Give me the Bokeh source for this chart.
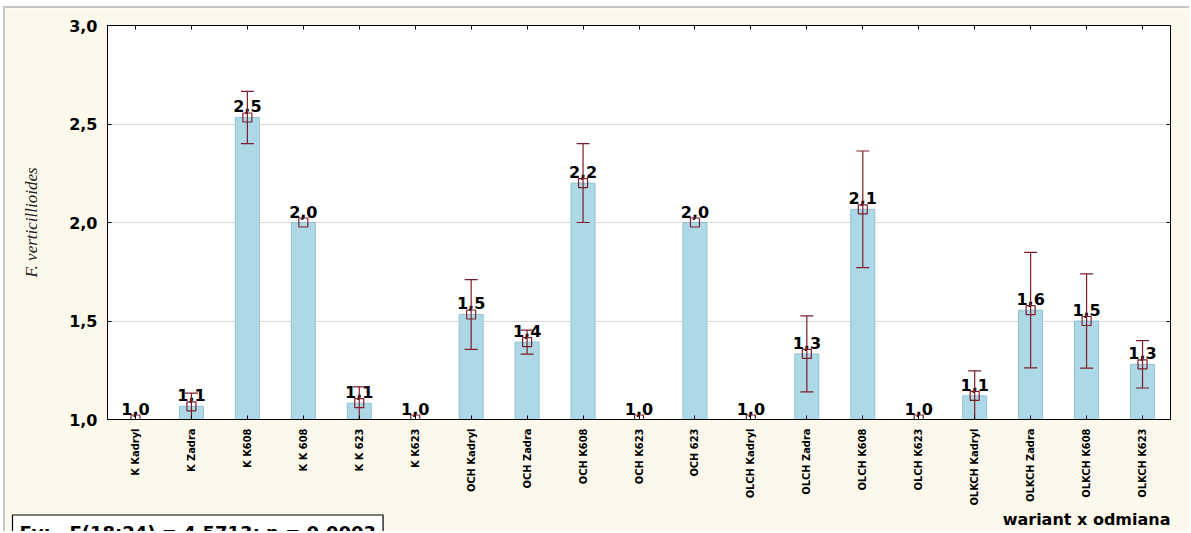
import numpy as np
from bokeh.plotting import figure
from bokeh.models import (ColumnDataSource, FixedTicker, LinearAxis, Title,
                          Range1d, CustomJSTickFormatter)
from bokeh.core.properties import value
from bokeh.embed import file_html
from bokeh.resources import INLINE

# Mean F. verticillioides score per treatment x variety, with error half-widths
categories = ["K Kadryl", "K Zadra", "K K608", "K K 608", "K K 623", "K K623",
              "OCH Kadryl", "OCH Zadra", "OCH K608", "OCH K623", "OCH 623",
              "OLCH Kadryl", "OLCH Zadra", "OLCH K608", "OLCH K623",
              "OLKCH Kadryl", "OLKCH Zadra", "OLKCH K608", "OLKCH K623"]
means = [1.0, 1.067, 2.533, 2.0, 1.083, 1.0,
         1.533, 1.393, 2.2, 1.0, 2.0,
         1.0, 1.333, 2.067, 1.0,
         1.12, 1.555, 1.5, 1.28]
errors = [0.0, 0.067, 0.133, 0.0, 0.083, 0.0,
          0.177, 0.061, 0.2, 0.0, 0.0,
          0.0, 0.193, 0.296, 0.0,
          0.127, 0.293, 0.239, 0.12]
y_ticks = [1.0, 1.5, 2.0, 2.5, 3.0]
grid_ticks = [1.5, 2.0, 2.5]
y_title = "F. verticillioides"
x_title = "wariant x odmiana"
stat_text = "Fv:\u00a0\u00a0\u00a0F(18;24) = 4,5713; p = 0,0003"

BAR = "#add8e6"
BAR_EDGE = "#93c3d4"
ERR = "#7d1d2c"
CREAM = "#fdf8ec"
BOLD = value("DejaVu Sans")
NARROW = "'DejaVu Sans Condensed', 'Liberation Sans', sans-serif"

OFF_X, OFF_Y = 5, 8
W, H = 1191 - OFF_X, 533 - OFF_Y
FRAME_L, FRAME_B = 107, 419   # frame edges in page pixels

xs = list(range(len(categories)))
labels = [f"{m:.1f}".replace(".", ",") for m in means]
src = ColumnDataSource(dict(x=xs, mean=means, label=labels))

ex = [x for x, e in zip(xs, errors) if e > 0]
em = [m for m, e in zip(means, errors) if e > 0]
ee = [e for e in errors if e > 0]
lo = [m - e for m, e in zip(em, ee)]
hi = [m + e for m, e in zip(em, ee)]
cap = 0.116
err_src = ColumnDataSource(dict(x=ex, lo=lo, hi=hi,
                                xl=[x - cap for x in ex], xr=[x + cap for x in ex]))

p = figure(width=W, height=H, output_backend="svg", toolbar_location=None,
           x_range=Range1d(-0.5, len(categories) - 0.5),
           y_range=Range1d(y_ticks[0], y_ticks[-1]),
           min_border_left=FRAME_L - OFF_X, min_border_right=1191 - 1170,
           min_border_top=25 - OFF_Y, min_border_bottom=533 - FRAME_B)
p.styles = {"margin-left": "3px", "margin-top": "6px",
            "border-left": "2px solid #c4c4c4", "border-top": "2px solid #c4c4c4"}
p.background_fill_color = "white"
p.border_fill_color = CREAM
p.outline_line_color = "black"

# axes
xfmt = CustomJSTickFormatter(args=dict(cats=categories),
                             code="return cats[Math.round(tick)];")
yfmt = CustomJSTickFormatter(code="return tick.toFixed(1).replace('.', ',');")
blank = CustomJSTickFormatter(code="return '';")

xa = p.xaxis[0]
xa.ticker = FixedTicker(ticks=xs)
xa.formatter = xfmt
xa.major_label_orientation = np.pi / 2
xa.major_label_text_font = NARROW
xa.major_label_text_font_style = "bold"
xa.major_label_text_font_size = "11px"
xa.major_label_text_color = "black"
xa.major_label_standoff = 9
xa.major_tick_in = 4
xa.major_tick_out = 0
xa.minor_tick_line_color = None
xa.axis_line_color = "black"

ya = p.yaxis[0]
ya.ticker = FixedTicker(ticks=y_ticks)
ya.formatter = yfmt
ya.major_label_text_font = "DejaVu Sans"
ya.major_label_text_font_style = "bold"
ya.major_label_text_font_size = "16px"
ya.major_label_text_color = "black"
ya.major_label_standoff = 10
ya.major_tick_in = 4
ya.major_tick_out = 0
ya.minor_tick_line_color = None
ya.axis_line_color = "black"
ya.axis_label = y_title
ya.axis_label_text_font = "Liberation Serif"
ya.axis_label_text_font_style = "italic"
ya.axis_label_text_font_size = "17px"
ya.axis_label_text_color = "#222222"
ya.axis_label_standoff = 25

ra = LinearAxis(ticker=FixedTicker(ticks=y_ticks), formatter=blank,
                major_tick_in=4, major_tick_out=0, minor_tick_line_color=None,
                axis_line_color="black", major_label_standoff=0)
p.add_layout(ra, "right")
ta = LinearAxis(ticker=FixedTicker(ticks=xs), formatter=blank,
                major_tick_in=4, major_tick_out=0, minor_tick_line_color=None,
                axis_line_color="black", major_label_standoff=0)
p.add_layout(ta, "above")

p.xgrid.grid_line_color = None
p.ygrid.ticker = FixedTicker(ticks=grid_ticks)
p.ygrid.grid_line_color = "#d8d8d8"

# bars, value labels, error bars, mean markers
p.vbar(x="x", top="mean", bottom=0, width=0.43, source=src,
       fill_color=BAR, line_color=BAR_EDGE, line_width=1)
p.text(x="x", y="mean", text="label", source=src, text_align="center",
       text_baseline="alphabetic", y_offset=-11, text_font=BOLD,
       text_font_style="bold", text_font_size="16px", text_color="black")
p.segment(x0="x", y0="lo", x1="x", y1="hi", source=err_src,
          line_color=ERR, line_width=1.2)
p.segment(x0="xl", y0="hi", x1="xr", y1="hi", source=err_src,
          line_color=ERR, line_width=1.2)
p.segment(x0="xl", y0="lo", x1="xr", y1="lo", source=err_src,
          line_color=ERR, line_width=1.2)
p.scatter(x="x", y="mean", source=src, marker="square", size=9,
          fill_color=None, line_color=ERR, line_width=1.2)

# axis title (bottom right) and the statistics box (bottom left) as
# side-panel titles under the category axis
p.add_layout(Title(text=x_title, align="right", standoff=-1,
                   text_font="DejaVu Sans", text_font_style="bold",
                   text_font_size="16px", text_color="black"), "below")
p.add_layout(Title(text=stat_text, align="left", standoff=-43, offset=-95,
                   text_font="DejaVu Sans", text_font_style="bold",
                   text_font_size="18px", text_color="black",
                   background_fill_color="white", border_line_color="black",
                   border_line_width=1.2, padding=7), "below")

open("out.html", "w").write(file_html(p, INLINE))
